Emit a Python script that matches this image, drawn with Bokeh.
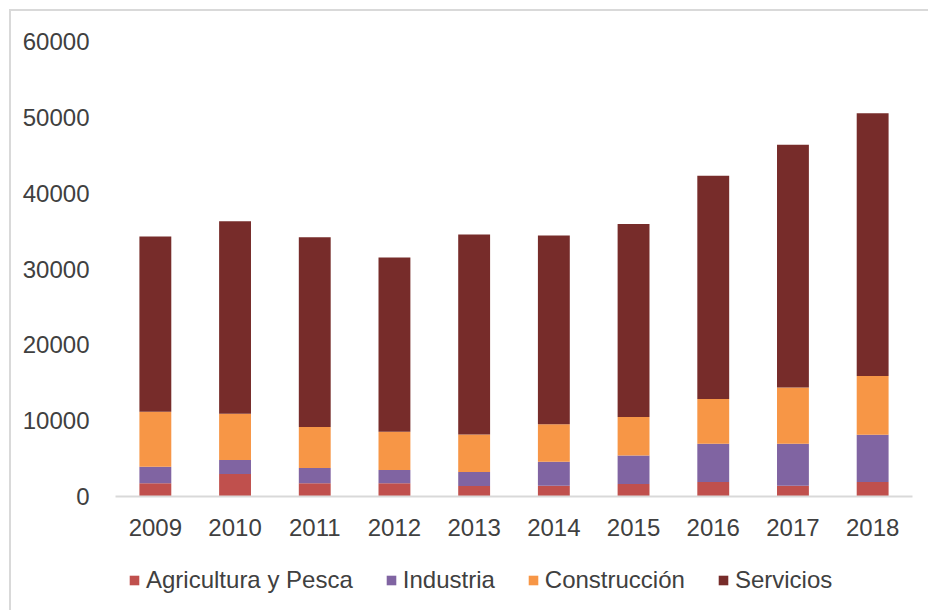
from bokeh.plotting import figure
from bokeh.layouts import column
from bokeh.models import Range1d, Legend, LegendItem, ColumnDataSource, NumeralTickFormatter, FixedTicker
from bokeh.embed import file_html
from bokeh.resources import INLINE

years = ["2009", "2010", "2011", "2012", "2013", "2014", "2015", "2016", "2017", "2018"]
agricultura = [1740, 2960, 1740, 1740, 1380, 1420, 1640, 1910, 1420, 1910]
industria = [2180, 1840, 2010, 1750, 1840, 3160, 3780, 5040, 5530, 6220]
construccion = [7240, 6100, 5430, 5040, 4960, 4960, 5080, 5920, 7420, 7760]
servicios = [23120, 25390, 25000, 22980, 26360, 24870, 25450, 29430, 32010, 34660]
series_names = ["Agricultura y Pesca", "Industria", "Construcción", "Servicios"]
y_ticks = [0, 10000, 20000, 30000, 40000, 50000, 60000]

keys = ["agri", "ind", "cons", "serv"]
colors = ["#c0504d", "#8064a2", "#f79646", "#772c2a"]

source = ColumnDataSource(dict(years=years, agri=agricultura, ind=industria,
                               cons=construccion, serv=servicios))

FONT = "Liberation Sans"
TXT = "#404040"
FS = "24px"

p = figure(x_range=years, y_range=Range1d(0, 60000), width=917, height=545,
           output_backend="svg", toolbar_location=None,
           min_border_left=104, min_border_right=16, min_border_top=30, min_border_bottom=60)

p.vbar_stack(keys, x="years", width=0.4, color=colors, source=source, line_color=None)

p.outline_line_color = None
p.xgrid.grid_line_color = None
p.ygrid.grid_line_color = None
p.x_range.range_padding = 0

p.yaxis.ticker = FixedTicker(ticks=y_ticks)
p.yaxis.formatter = NumeralTickFormatter(format="0")
p.yaxis.axis_line_color = None
p.yaxis.major_tick_line_color = None
p.yaxis.minor_tick_line_color = None
p.yaxis.major_label_standoff = 20
p.yaxis.major_label_text_font = FONT
p.yaxis.major_label_text_font_size = FS
p.yaxis.major_label_text_color = TXT

p.xaxis.axis_line_color = "#d9d9d9"
p.xaxis.axis_line_width = 2
p.xaxis.major_tick_line_color = None
p.xaxis.minor_tick_line_color = None
p.xaxis.major_label_standoff = 16
p.xaxis.major_label_text_font = FONT
p.xaxis.major_label_text_font_size = FS
p.xaxis.major_label_text_color = TXT

# legend strip below the chart; swatch renderers are zero-height (invisible) bars
pl = figure(width=917, height=54, x_range=Range1d(0, 1), y_range=Range1d(0, 1),
            output_backend="svg", toolbar_location=None,
            x_axis_type=None, y_axis_type=None,
            min_border_left=0, min_border_right=0, min_border_top=0, min_border_bottom=0)
pl.outline_line_color = None
pl.xgrid.grid_line_color = None
pl.ygrid.grid_line_color = None
swatches = [pl.vbar(x=[0.5], top=[0], bottom=[0], width=0.01, fill_color=c, line_color=None)
            for c in colors]

legend = Legend(items=[LegendItem(label=n, renderers=[r]) for n, r in zip(series_names, swatches)],
                orientation="horizontal", location=(13, 16),
                glyph_width=12, glyph_height=12, label_standoff=6, spacing=32,
                label_text_font=FONT, label_text_font_size=FS, label_text_color=TXT,
                border_line_color=None, background_fill_alpha=0, padding=8, margin=0)
pl.add_layout(legend, "center")

layout = column(p, pl, spacing=0)
layout.styles = {"border-left": "2px solid #d9d9d9", "border-top": "2px solid #d9d9d9",
                 "margin-left": "9px", "margin-top": "9px"}

open("out.html", "w").write(file_html(layout, INLINE))
